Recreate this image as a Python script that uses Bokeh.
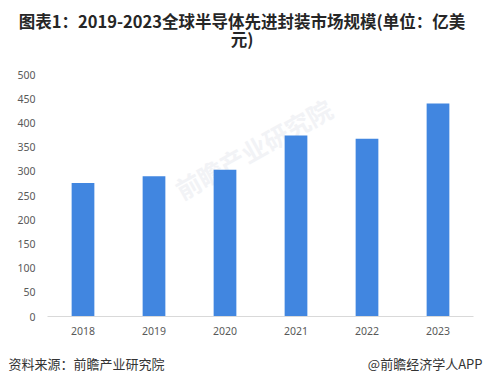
from bokeh.plotting import figure
from bokeh.models import Range1d, Label, ColumnDataSource, FixedTicker
from bokeh.embed import file_html
from bokeh.resources import INLINE

years = ["2018", "2019", "2020", "2021", "2022", "2023"]
values = [276, 290, 303, 374, 367, 440]
y_ticks = [0, 50, 100, 150, 200, 250, 300, 350, 400, 450, 500]

title_line1 = "图表1：2019-2023全球半导体先进封装市场规模(单位：亿美"
title_line2 = "元)"
source_text = "资料来源：前瞻产业研究院"
credit_text = "@前瞻经济学人APP"
watermark_text = "前瞻产业研究院"

W, H = 483, 385
# layout of the plotting area, in pixels
cat_px = 71.0
first_center_px = 82.5
zero_px = 316.0
px_per_unit = 0.484

xs = list(range(len(years)))

p = figure(width=W, height=H, output_backend="svg", toolbar_location=None,
           x_range=Range1d(-first_center_px / cat_px, (W - first_center_px) / cat_px),
           y_range=Range1d(-(H - zero_px) / px_per_unit, zero_px / px_per_unit),
           min_border=0, min_border_left=0, min_border_right=0, min_border_top=0, min_border_bottom=0)
p.outline_line_color = None
p.background_fill_color = "white"
p.border_fill_color = "white"
p.xgrid.grid_line_color = None
p.ygrid.grid_line_color = None

p.add_layout(Label(x=253, y=237, x_units="screen", y_units="screen", text=watermark_text,
                   text_font="Noto Sans CJK SC", text_font_style="bold", text_font_size="25px",
                   text_color="#f2f3f6", text_align="center", text_baseline="middle", angle=0.51,
                   level="underlay"))

src = ColumnDataSource(dict(x=xs, top=values))
p.vbar(x="x", top="top", width=0.32, source=src, color="#4186E0", line_color=None)

# y axis
p.yaxis.fixed_location = -0.5
p.yaxis.bounds = (0, 500)
p.yaxis.ticker = FixedTicker(ticks=y_ticks)
p.yaxis.axis_line_color = None
p.yaxis.major_tick_line_color = None
p.yaxis.minor_tick_line_color = None
p.yaxis.major_tick_in = 0
p.yaxis.major_tick_out = 0
p.yaxis.major_label_standoff = 12
p.yaxis.major_label_text_font = "Noto Sans"
p.yaxis.major_label_text_font_size = "10.5px"
p.yaxis.major_label_text_color = "#595959"

# x axis
p.xaxis.fixed_location = 0
p.xaxis.bounds = (-0.5, len(years) - 0.5)
p.xaxis.ticker = FixedTicker(ticks=xs, minor_ticks=[])
p.xaxis.major_label_overrides = {i: y for i, y in zip(xs, years)}
p.xaxis.axis_line_color = "#d9d9d9"
p.xaxis.axis_line_width = 1
p.xaxis.major_tick_line_color = None
p.xaxis.minor_tick_line_color = None
p.xaxis.major_tick_in = 0
p.xaxis.major_tick_out = 0
p.xaxis.major_label_standoff = 10
p.xaxis.major_label_text_font = "Noto Sans"
p.xaxis.major_label_text_font_size = "10.5px"
p.xaxis.major_label_text_color = "#595959"

# title
for txt, sy in [(title_line1, H - 20), (title_line2, H - 38)]:
    p.add_layout(Label(x=241.5, y=sy, x_units="screen", y_units="screen", text=txt,
                       text_font="Noto Sans CJK SC", text_font_style="bold", text_font_size="16.5px",
                       text_color="#262626", text_align="center", text_baseline="middle"))

# footer
p.add_layout(Label(x=8, y=H - 363, x_units="screen", y_units="screen", text=source_text,
                   text_font="Noto Sans CJK SC", text_font_size="13px",
                   text_color="#333333", text_align="left", text_baseline="middle"))
p.add_layout(Label(x=482, y=H - 363, x_units="screen", y_units="screen", text=credit_text,
                   text_font="Noto Sans CJK SC", text_font_size="13px",
                   text_color="#333333", text_align="right", text_baseline="middle"))

open("out.html", "w").write(file_html(p, INLINE))
